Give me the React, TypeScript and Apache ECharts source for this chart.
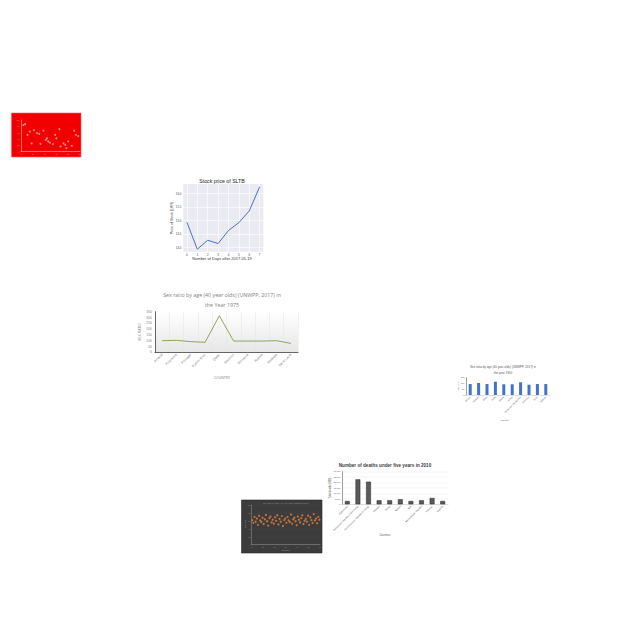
import React, { useEffect, useRef } from "react";
import * as echarts from "echarts";

// ---- Chart A: red scatter ----
const redX = [4, 7, 11, 15, 22, 27, 31, 38, 18, 33, 42, 46, 49, 54, 58, 65, 60, 67, 72, 75, 80, 86, 90, 93, 97, 77, 44];
const redY = [84, 87, 53, 63, 68, 58, 56, 66, 26, 24, 37, 32, 28, 23, 53, 71, 42, 16, 26, 21, 32, 18, 66, 53, 49, 11, 42];

// ---- Chart B: stock price ----
const stockDays = [0, 1, 2, 3, 4, 5, 6, 7];
const stockPrice = [14.93, 13.94, 14.27, 14.15, 14.63, 14.92, 15.35, 16.24];
const stockTicks = [14, 14.5, 15, 15.5, 16];

// ---- Chart C: sex ratio 1975 ----
const countries1975 = ["Poland", "Polynesia", "Portugal", "Puerto Rico", "Qatar", "Réunion", "Romania", "Russia", "Rwanda", "Saint Lucia"];
const ratio1975 = [100, 103, 92, 86, 315, 97, 97, 97, 100, 77];

// ---- Chart D: sex ratio 1950 ----
const countries1950 = ["Belarus", "Belgium", "Belize", "Benin", "Bhutan", "Bolivia", "Bosnia and Herzegovina", "Botswana", "Brazil", "Bulgaria"];
const ratio1950 = [95, 104, 95, 115, 93, 93, 110, 89, 95, 95];

// ---- Chart E: deaths under five ----
const deathCountries = ["Afghanistan", "Democratic Republic of the Congo", "Central African Republic of Congo", "Ethiopia", "Kenya", "Malawi", "Mali", "Mozambique Republic", "Pakistan", "Uganda"];
const deaths = [3060, 22960, 20800, 3670, 3670, 4590, 3060, 3670, 5800, 3060];

// ---- Chart F: dark scatter ----
const darkY = [62, 55, 70, 58, 66, 50, 73, 61, 57, 68, 52, 64, 75, 59, 48, 67, 71, 56, 63, 53, 69, 60, 74, 51, 65, 58, 72, 47, 62, 66, 55, 70, 61, 57, 76, 53, 64, 68, 59, 49, 71, 63, 56, 67, 74, 52, 60, 65, 58, 73, 50, 69, 62, 55, 77, 61, 66, 54, 70, 63];

const txt = (x: number, y: number, text: string, size: number, fill: string, opts: any = {}) => ({
  type: "text",
  x,
  y,
  rotation: opts.rotation || 0,
  silent: true,
  z: 10,
  style: {
    text,
    fill,
    fontSize: size,
    fontFamily: opts.family || "Liberation Sans",
    fontWeight: opts.weight || "normal",
    align: "center",
    verticalAlign: "middle",
    textAlign: "center",
    textVerticalAlign: "middle",
    opacity: opts.opacity ?? 1,
  },
});

export default function App() {
  const ref = useRef<HTMLDivElement>(null);
  useEffect(() => {
    const chart = echarts.init(ref.current!, null, { renderer: "svg" });
    const option: any = {
      animation: false,
      backgroundColor: "#ffffff",
      graphic: [
        { type: "rect", z: -1, shape: { x: 11.5, y: 113, width: 69.5, height: 44 }, style: { fill: "#f00000", stroke: "#ff5a5a", lineWidth: 0.6 } },
        { type: "rect", z: -1, shape: { x: 241.5, y: 500, width: 80.5, height: 53 }, style: { fill: "#3c3c3c", stroke: "#2a2a2a", lineWidth: 0.6 } },
        txt(222, 180.5, "Stock price of SLTB", 5.2, "#222"),
        txt(172, 218, "Price of Stock (LKR)", 3.6, "#333", { rotation: Math.PI / 2 }),
        txt(222, 258.5, "Number of Days after 2017-05-19", 4, "#333"),
        txt(222, 294.5, "Sex ratio by age (40 year olds) (UNWPP, 2017) in", 5.3, "#7f7f7f", { family: "Open Sans" }),
        txt(222, 304.5, "the Year 1975", 5.3, "#7f7f7f", { family: "Open Sans" }),
        txt(140, 332, "SEX RATIO", 3.4, "#7f7f7f", { rotation: Math.PI / 2 }),
        txt(222, 377.7, "COUNTRY", 3.4, "#7f7f7f"),
        txt(503, 367, "Sex ratio by age (40 year olds) (UNWPP, 2017) in", 3, "#595959"),
        txt(503, 372.5, "the year 1950", 3, "#595959"),
        txt(458, 386, "Sex ratio", 2.3, "#595959", { rotation: Math.PI / 2 }),
        txt(505, 420, "Country", 2.4, "#595959"),
        txt(385, 465.5, "Number of deaths under five years in 2010", 4.6, "#404040", { weight: "bold" }),
        txt(330, 488, "Total deaths (000)", 2.6, "#595959", { rotation: Math.PI / 2 }),
        txt(385, 535, "Countries", 2.6, "#595959"),
        txt(286, 503.5, "Sex ratio by age (40 year olds) (UNWPP, 2017)", 2.2, "#9a9a9a"),
        txt(286, 550, "Country", 2.4, "#9a9a9a"),
        txt(245.5, 524, "Sex ratio", 2.2, "#9a9a9a", { rotation: Math.PI / 2 }),
      ],
      grid: [
        { left: 21, top: 120, width: 59, height: 31.5, show: false },
        { left: 183.3, top: 184, width: 80, height: 67.7, show: true, backgroundColor: "#eaeaf2", borderWidth: 0 },
        {
          left: 155, top: 311.7, width: 143, height: 40.6, show: true, borderWidth: 0,
          backgroundColor: new echarts.graphic.LinearGradient(0, 0, 0, 1, [
            { offset: 0, color: "#ffffff" },
            { offset: 1, color: "#e6e6e6" },
          ]),
        },
        { left: 466, top: 377.7, width: 84, height: 17.3, show: false },
        { left: 342, top: 471.7, width: 106, height: 32.6, show: false },
        { left: 251.7, top: 505, width: 68.3, height: 39.7, show: false },
      ],
      xAxis: [
        {
          gridIndex: 0, type: "value", min: 0, max: 100, interval: 20,
          axisLine: { lineStyle: { color: "#ffb3b3", width: 0.6 } },
          axisTick: { show: false },
          axisLabel: { fontSize: 1.8, color: "#ff9a9a", margin: 1.5 },
          splitLine: { show: false },
        },
        {
          gridIndex: 1, type: "value", min: -0.35, max: 7.35,
          axisLine: { show: false },
          axisTick: { show: false, customValues: stockDays },
          axisLabel: { fontSize: 3, color: "#444", margin: 1.5, customValues: stockDays },
          splitLine: { show: true, lineStyle: { color: "#ffffff", width: 0.6 } },
        },
        {
          gridIndex: 2, type: "category", data: countries1975, boundaryGap: true,
          axisLine: { lineStyle: { color: "#404040", width: 0.8 } },
          axisTick: { show: false },
          axisLabel: { fontSize: 3.4, color: "#7f7f7f", rotate: 45, interval: 0, margin: 2 },
          splitLine: { show: true, lineStyle: { color: "#e4e4e4", width: 0.5 } },
        },
        {
          gridIndex: 3, type: "category", data: countries1950,
          axisLine: { lineStyle: { color: "#bfbfbf", width: 0.5 } },
          axisTick: { show: false },
          axisLabel: { fontSize: 2.1, color: "#595959", rotate: 45, interval: 0, margin: 1.5 },
        },
        {
          gridIndex: 4, type: "category", data: deathCountries,
          axisLine: { lineStyle: { color: "#bfbfbf", width: 0.5 } },
          axisTick: { show: false },
          axisLabel: { fontSize: 2.3, color: "#595959", rotate: 45, interval: 0, margin: 1.5 },
        },
        {
          gridIndex: 5, type: "value", min: 0, max: 60, interval: 10,
          axisLine: { lineStyle: { color: "#8a8a8a", width: 0.6 } },
          axisTick: { show: false },
          axisLabel: { fontSize: 1.8, color: "#9a9a9a", margin: 1.2 },
          splitLine: { show: false },
        },
      ],
      yAxis: [
        {
          gridIndex: 0, type: "value", min: 0, max: 100, interval: 20,
          axisLine: { show: true, lineStyle: { color: "#ffb3b3", width: 0.6 } },
          axisTick: { show: false },
          axisLabel: { fontSize: 1.8, color: "#ff9a9a", margin: 1.5 },
          splitLine: { show: false },
        },
        {
          gridIndex: 1, type: "value", min: 13.85, max: 16.34,
          axisLine: { show: false },
          axisTick: { show: false, customValues: stockTicks },
          axisLabel: { fontSize: 2.8, color: "#444", margin: 2, customValues: stockTicks, formatter: (v: number) => v.toFixed(1) },
          splitLine: { show: true, lineStyle: { color: "#ffffff", width: 0.6 } },
        },
        {
          gridIndex: 2, type: "value", min: 0, max: 350, interval: 50,
          axisLine: { show: true, lineStyle: { color: "#404040", width: 0.8 } },
          axisTick: { show: false },
          axisLabel: { fontSize: 3.4, color: "#7f7f7f", margin: 3 },
          splitLine: { show: false },
        },
        {
          gridIndex: 3, type: "value", min: 0, max: 150, interval: 50,
          axisLine: { show: true, lineStyle: { color: "#404040", width: 0.5 } },
          axisTick: { show: false },
          axisLabel: { fontSize: 2.2, color: "#595959", margin: 1.5 },
          splitLine: { show: false },
        },
        {
          gridIndex: 4, type: "value", min: 0, max: 30000, interval: 5000,
          axisLine: { show: true, lineStyle: { color: "#404040", width: 0.5 } },
          axisTick: { show: false },
          axisLabel: { fontSize: 2.2, color: "#595959", margin: 1.5 },
          splitLine: { show: true, lineStyle: { color: "#e2e2e2", width: 0.4 } },
        },
        {
          gridIndex: 5, type: "value", min: 0, max: 100, interval: 20,
          axisLine: { show: true, lineStyle: { color: "#8a8a8a", width: 0.6 } },
          axisTick: { show: false },
          axisLabel: { fontSize: 1.8, color: "#9a9a9a", margin: 1.2 },
          splitLine: { show: true, lineStyle: { color: "#4a4a4a", width: 0.4 } },
        },
      ],
      series: [
        {
          type: "scatter", xAxisIndex: 0, yAxisIndex: 0,
          data: redX.map((x, i) => [x, redY[i]]),
          symbolSize: 2, itemStyle: { color: "#ffa8a8" },
        },
        {
          type: "line", xAxisIndex: 1, yAxisIndex: 1,
          data: stockDays.map((d, i) => [d, stockPrice[i]]),
          showSymbol: false, lineStyle: { color: "#4c72b0", width: 1 },
        },
        {
          type: "line", xAxisIndex: 2, yAxisIndex: 2,
          data: ratio1975,
          showSymbol: false, lineStyle: { color: "#8ea45e", width: 1 },
        },
        {
          type: "bar", xAxisIndex: 3, yAxisIndex: 3,
          data: ratio1950, barWidth: 3, itemStyle: { color: "#4472c4" },
        },
        {
          type: "bar", xAxisIndex: 4, yAxisIndex: 4,
          data: deaths, barWidth: 4.8,
          itemStyle: { color: "#5a5a5a", borderColor: "#262626", borderWidth: 0.5 },
        },
        {
          type: "scatter", xAxisIndex: 5, yAxisIndex: 5,
          data: darkY.map((y, i) => [i + 0.5, y]),
          symbolSize: 2.2, itemStyle: { color: "#e8823c" },
        },
      ],
    };
    chart.setOption(option);
    return () => chart.dispose();
  }, []);
  return (
    <div
      ref={ref}
      style={{ position: "absolute", left: 0, top: 0, width: 640, height: 640, background: "#ffffff" }}
    />
  );
}
